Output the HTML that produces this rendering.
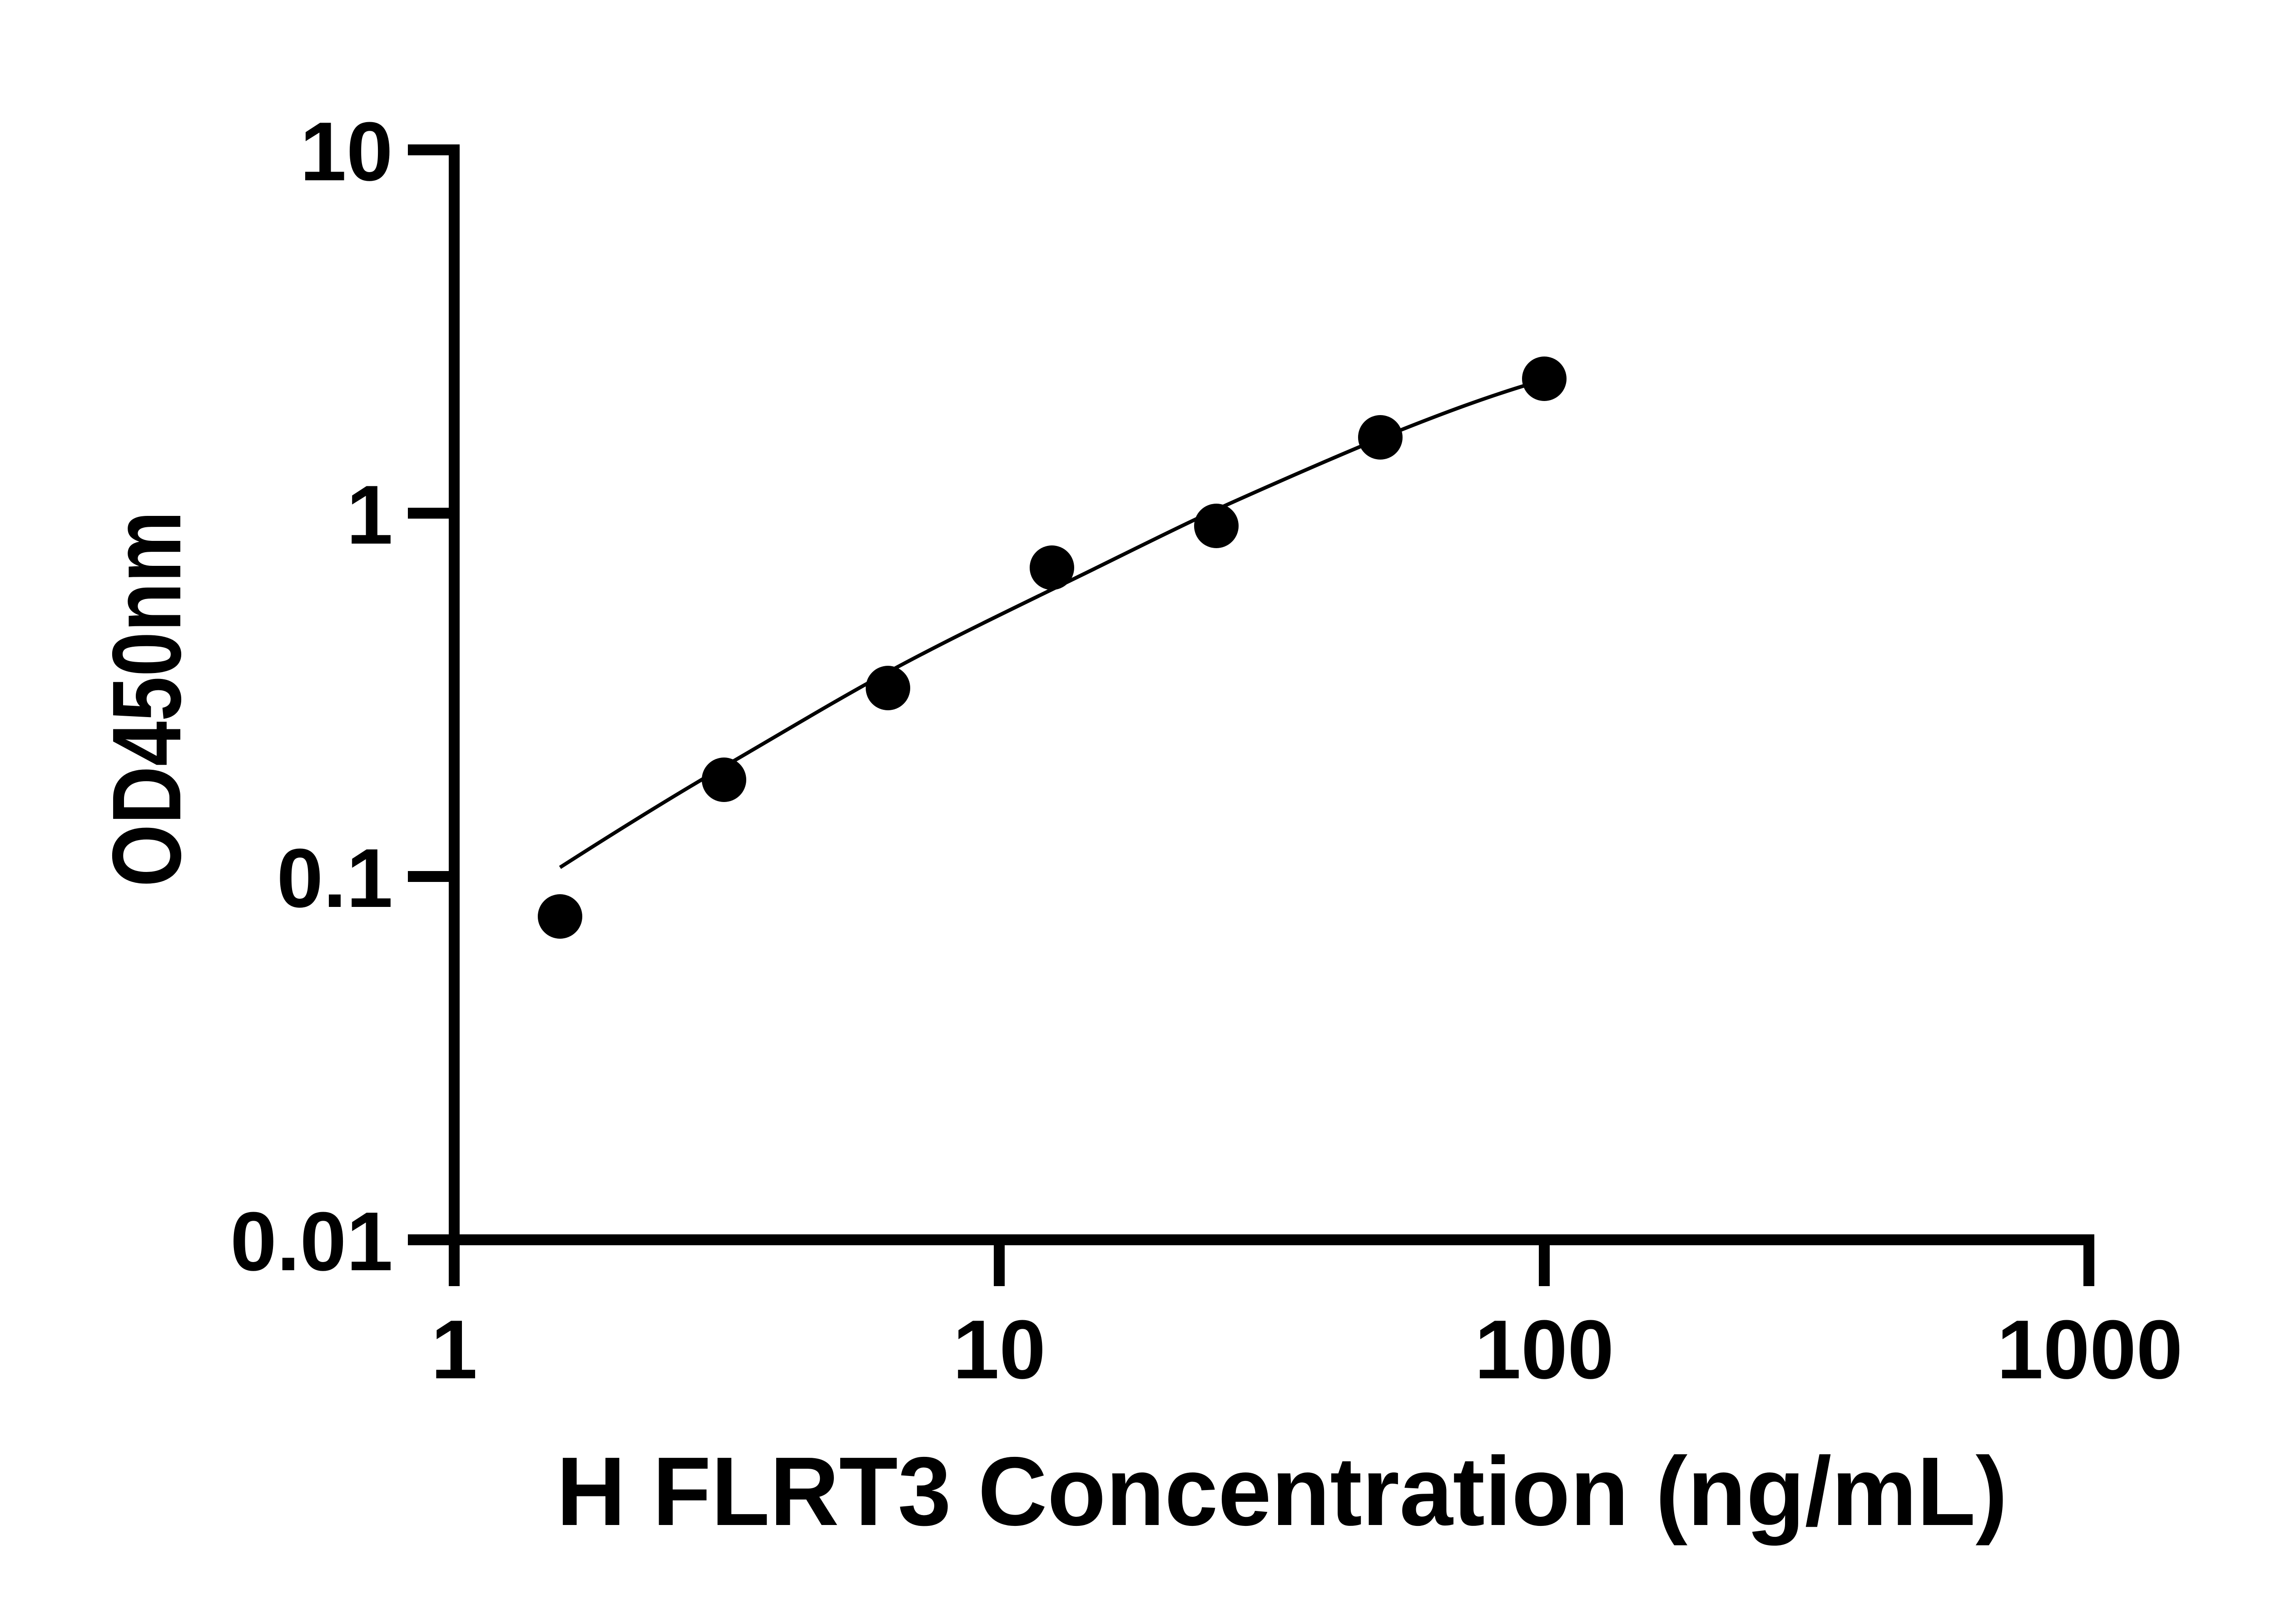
<!DOCTYPE html>
<html><head><meta charset="utf-8"><style>html,body{margin:0;padding:0;background:#fff}svg{display:block}</style></head>
<body>
<svg width="5170" height="3576" viewBox="0 0 5170 3576" xmlns="http://www.w3.org/2000/svg">
<rect width="5170" height="3576" fill="#fff"/>
<g stroke="#000" stroke-width="24" fill="none" stroke-linecap="butt">
<line x1="1000" y1="318" x2="1000" y2="2832"/>
<line x1="988" y1="2730" x2="4611" y2="2730"/>
<line x1="898" y1="330" x2="1012" y2="330"/>
<line x1="898" y1="1130" x2="1000" y2="1130"/>
<line x1="898" y1="1930" x2="1000" y2="1930"/>
<line x1="898" y1="2730" x2="1000" y2="2730"/>
<line x1="2200" y1="2730" x2="2200" y2="2832"/>
<line x1="3400" y1="2730" x2="3400" y2="2832"/>
<line x1="4599" y1="2718" x2="4599" y2="2832"/>
</g>
<g font-family="Liberation Sans, Arial, sans-serif" font-weight="bold" font-size="184" fill="#000">
<text x="865" y="397" text-anchor="end">10</text>
<text x="865" y="1197" text-anchor="end">1</text>
<text x="865" y="1997" text-anchor="end">0.1</text>
<text x="865" y="2797" text-anchor="end">0.01</text>
<text x="1000" y="3035" text-anchor="middle">1</text>
<text x="2200" y="3035" text-anchor="middle">10</text>
<text x="3400" y="3035" text-anchor="middle">100</text>
<text x="4601" y="3035" text-anchor="middle">1000</text>
</g>
<text x="1225" y="3358" font-family="Liberation Sans, Arial, sans-serif" font-weight="bold" font-size="215" textLength="3195" lengthAdjust="spacingAndGlyphs">H FLRT3 Concentration (ng/mL)</text>
<text transform="translate(397,1953) rotate(-90)" x="0" y="0" font-family="Liberation Sans, Arial, sans-serif" font-weight="bold" font-size="215" textLength="828" lengthAdjust="spacingAndGlyphs">OD450nm</text>
<path d="M1233,1910 C1350,1835 1470,1760 1594,1688 C1715,1618 1835,1545 1955,1480 C2075,1415 2195,1357 2316,1298 C2437,1240 2557,1178 2678,1122 C2798,1068 2918,1015 3039,965 C3150,920 3260,878 3370,845" stroke="#000" stroke-width="8" fill="none"/>
<g fill="#000">
<circle cx="1233" cy="2018" r="49"/>
<circle cx="1594" cy="1717" r="49"/>
<circle cx="1955" cy="1515" r="49"/>
<circle cx="2316" cy="1250" r="49"/>
<circle cx="2678" cy="1158" r="49"/>
<circle cx="3039" cy="963" r="49"/>
<circle cx="3400" cy="834" r="49"/>
</g>
</svg>
</body></html>
